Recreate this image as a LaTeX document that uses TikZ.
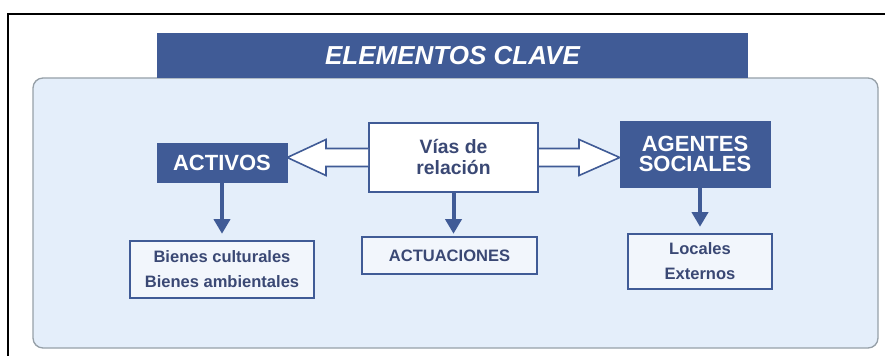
\documentclass[tikz,border=0pt]{standalone}
\usepackage{fontspec}
\setmainfont{Liberation Sans}
\usetikzlibrary{arrows.meta,calc}
\definecolor{darkblue}{RGB}{64,91,150}
\definecolor{panelblue}{RGB}{228,238,250}
\definecolor{panelgrey}{RGB}{150,160,168}
\definecolor{textblue}{RGB}{58,72,116}
\tikzset{
  titlebar/.style={fill=darkblue,text=white,inner sep=0pt,minimum width=443.25pt,minimum height=33.75pt,font=\bfseries\itshape\fontsize{19.5}{22}\selectfont},
  darkbox/.style={fill=darkblue,draw=darkblue,text=white,align=center,inner sep=0pt,font=\bfseries\fontsize{16.5}{15}\selectfont},
  whitebox/.style={fill=white,draw=darkblue,line width=1.5pt,text=textblue,align=center,inner sep=0pt,font=\bfseries\fontsize{14.5}{15.75}\selectfont},
  itembox/.style={fill=panelblue!50!white,draw=darkblue,line width=1.8pt,text=textblue,align=center,inner sep=0pt,font=\bfseries\fontsize{12.4}{18.75}\selectfont},
  hollow/.style={fill=white,draw=darkblue,line width=1.2pt,line join=miter},
  down/.style={draw=darkblue,line width=3pt,-{Triangle[width=12pt,length=11pt]}}
}
\begin{document}
\begin{tikzpicture}[x=0.75pt,y=-0.75pt]
    \useasboundingbox (0,0) rectangle (885,356);
    \draw[line width=1.5pt] (8,356) -- (8,14) -- (885,14);
    \draw[fill=panelblue,draw=panelgrey,line width=1pt,rounded corners=7.5pt] (33,78) rectangle (878,348);
    \node[titlebar] (title) at (452.5,55.5) {ELEMENTOS CLAVE};
    \node[darkbox,minimum width=97.5pt,minimum height=29.25pt] (activos) at (222,162.5) {ACTIVOS};
    \node[whitebox,minimum width=126.75pt,minimum height=51.75pt] (vias) at (453.5,157.5) {Vías de\\relación};
    \node[darkbox,minimum width=112.5pt,minimum height=49.5pt] (agentes) at (695,154) {AGENTES\\SOCIALES};
    \node[itembox,minimum width=138pt,minimum height=42.75pt] (bienes) at (222,269.5) {Bienes culturales\\Bienes ambientales};
    \node[itembox,minimum width=131.25pt,minimum height=27.75pt] (actuaciones) at (449.5,255.5) {ACTUACIONES};
    \node[itembox,minimum width=108pt,minimum height=41.25pt] (locales) at (700,261.5) {Locales\\Externos};
    \draw[hollow] ($(vias.west)+(0,-9)$) -- ++(-42,0) -- ++(0,-9) -- (activos.east |- vias.west)
      -- ($(vias.west)+(-42,18)$) -- ++(0,-9) -- ($(vias.west)+(0,9)$);
    \draw[hollow] ($(vias.east)+(0,-9)$) -- ++(40,0) -- ++(0,-9) -- (agentes.west |- vias.east)
      -- ($(vias.east)+(40,18)$) -- ++(0,-9) -- ($(vias.east)+(0,9)$);
    \draw[down,shorten >=4.5pt] (activos.south) -- (bienes.north);
    \draw[down,shorten >=1.5pt] (vias.south) -- (vias.south |- actuaciones.north);
    \draw[down,shorten >=4.5pt] (locales.north |- agentes.south) -- (locales.north);
  \end{tikzpicture}
\end{document}
